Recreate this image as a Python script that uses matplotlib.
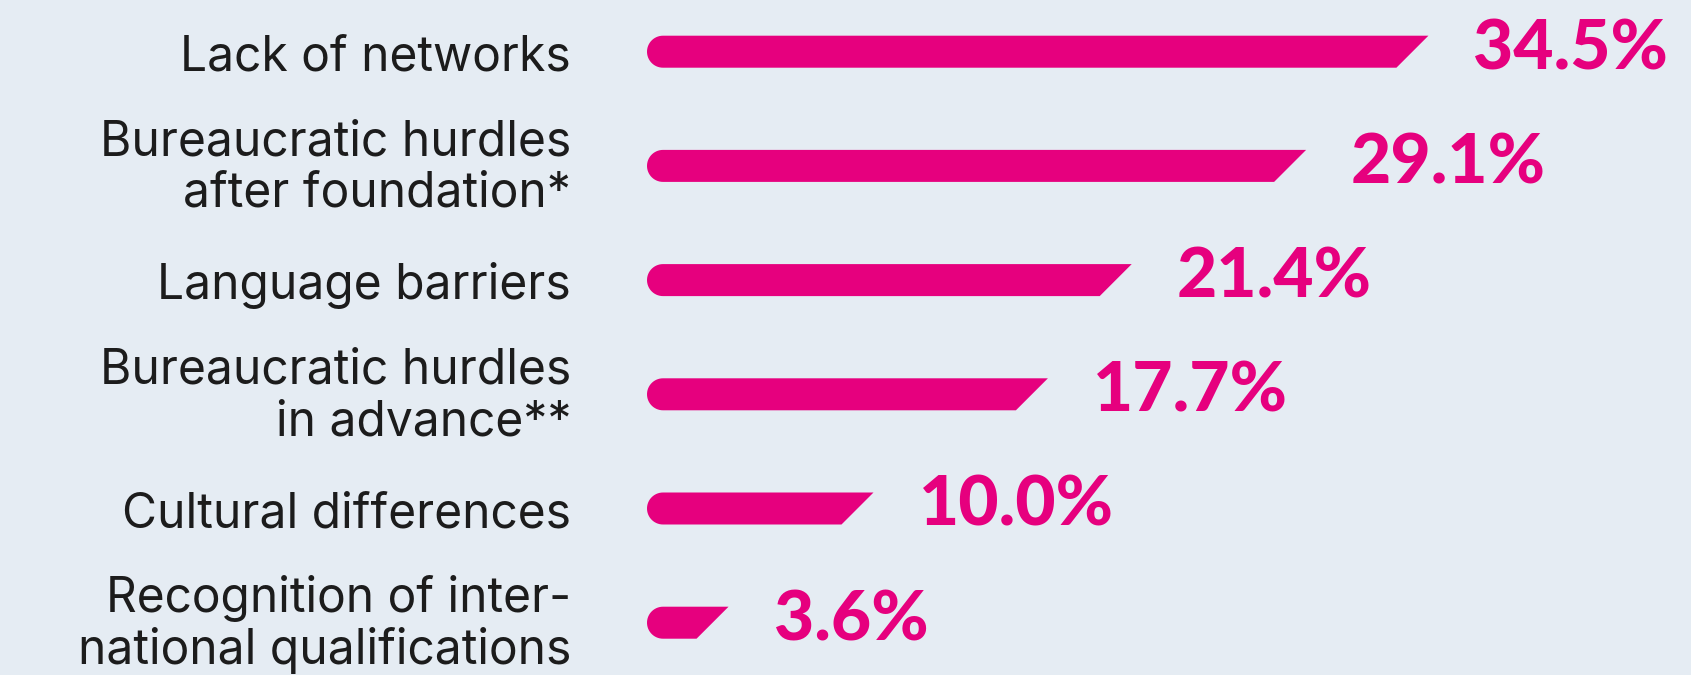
import matplotlib
matplotlib.use('Agg')
import matplotlib.pyplot as plt
from matplotlib.patches import Polygon
import numpy as np

# 数据
categories = ['Lack of networks',
              'Bureaucratic hurdles\nafter foundation*',
              'Language barriers',
              'Bureaucratic hurdles\nin advance**',
              'Cultural differences',
              'Recognition of inter-\nnational qualifications']
values = [34.5, 29.1, 21.4, 17.7, 10.0, 3.6]

# 样式
bg = '#E5ECF3'
pink = '#E6007E'
dark = '#1C1C1C'

W, H = 1691, 675
x0 = 647          # 条形左端像素
px_per = 22.65    # 每 1% 的像素
y0, dy = 51.7, 114.2  # 第一个条形中心像素、间距

fig = plt.figure(figsize=(W / 100, H / 100), dpi=100, facecolor=bg)
ax = fig.add_axes([0, 0, 1, 1], facecolor=bg)
ax.set_xlim(-x0 / px_per, (W - x0) / px_per)
ax.set_ylim((H - y0) / dy, -y0 / dy)
ax.axis('off')

# 像素 -> 数据单位
ux = 1 / px_per
uy = 1 / dy
bar_h = 32 * uy
rx = 16 * ux
ry = bar_h / 2
slant = 32 * ux

for i, (cat, v) in enumerate(zip(categories, values)):
    yc = i
    top = yc - ry
    bot = yc + ry
    # 左侧圆头 + 右侧斜切
    t = np.linspace(np.pi / 2, 3 * np.pi / 2, 30)
    arc_pts = [(rx + rx * np.cos(a), yc + ry * np.sin(a)) for a in t]
    poly = [(rx, top), (v, top), (v - slant, bot), (rx, bot)] + arc_pts
    ax.add_patch(Polygon(poly, closed=True, facecolor=pink, edgecolor='none'))

    # 数值
    ax.text(v + 45 * ux, yc + 17.5 * uy, '{:.1f}%'.format(v), ha='left', va='baseline',
            fontsize=50, fontweight='black', family='Lato', color=pink)

    # 类别标签
    lines = cat.split('\n')
    if len(lines) == 1:
        bases = [19]
    else:
        bases = [-10.7, 41]
    for ln, b in zip(lines, bases):
        ax.text((571 - x0) * ux, yc + b * uy, ln, ha='right', va='baseline',
                fontsize=34.5, family='Inter', color=dark)

fig.savefig('out.png', dpi=100, facecolor=bg)
